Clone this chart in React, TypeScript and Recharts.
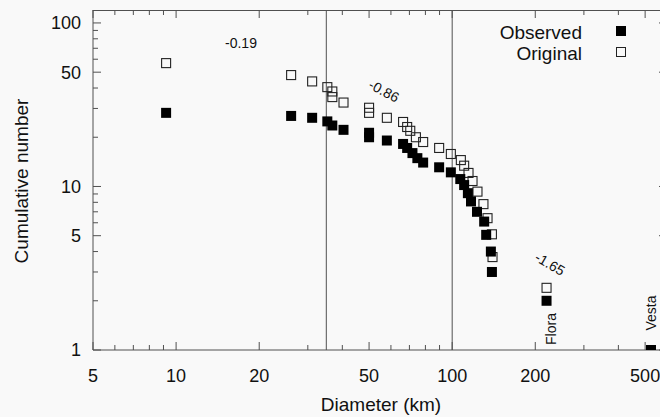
import React from 'react';
import { ScatterChart, Scatter, XAxis, YAxis, ReferenceLine } from 'recharts';

// diameters (km) and cumulative counts
const obsDiameter = [9.2, 26.1, 31.1, 35.3, 36.8, 40.4, 50, 50, 58, 66.4, 68.7, 71.8, 74.8, 78.5, 89.7, 98.9, 107, 110.5, 114, 117, 123, 130.6, 132.8, 138.1, 139.3, 219.7, 525];
const obsCount = [28.2, 27, 26.3, 25, 23.6, 22.2, 21.3, 20, 19.1, 18.2, 17.2, 16, 14.9, 14, 13.1, 12.2, 11.1, 10.2, 9.1, 8.1, 7, 6.1, 5.06, 4, 3, 2, 1];
const origDiameter = [9.2, 26.1, 31.1, 35.3, 36.8, 36.8, 40.4, 50, 50, 58, 66.4, 68.7, 70.5, 73.9, 78.5, 89.7, 98.9, 107.5, 110.5, 114.6, 118.5, 123.5, 129.8, 134.3, 139.3, 140, 219.7];
const origCount = [56.8, 48, 43.9, 40.5, 38.1, 35.2, 32.6, 30.3, 28.2, 26.3, 24.8, 23.1, 21.9, 20, 18.7, 17.2, 15.8, 14.5, 13.4, 12.1, 10.8, 9.3, 7.8, 6.4, 5.1, 3.7, 2.4];

const xTicks = [5, 6, 7, 8, 9, 10, 20, 30, 40, 50, 60, 70, 80, 90, 100, 200, 300, 400, 500];
const xLabels = [5, 10, 20, 50, 100, 200, 500];
const yTicks = [1, 2, 3, 4, 5, 6, 7, 8, 9, 10, 20, 30, 40, 50, 60, 70, 80, 90, 100];
const yLabels = [1, 5, 10, 50, 100];
const breaks = [35, 100];

const X_DOMAIN = [5, 600];
const Y_DOMAIN = [1, 120];

// plot box inside the 680px-wide chart
const PLOT_LEFT = 93;
const PLOT_RIGHT = 680 - 12 - 1;
const PLOT_TOP = 10;

const observed = obsDiameter.map((d, i) => ({ d, n: obsCount[i] }));
const original = origDiameter.map((d, i) => ({ d, n: origCount[i] }));

// x position of a frame tick on the log axis
const frameX = (v: number) =>
  PLOT_LEFT + ((PLOT_RIGHT - PLOT_LEFT) * Math.log10(v / X_DOMAIN[0])) / Math.log10(X_DOMAIN[1] / X_DOMAIN[0]);

const FONT = '"Liberation Sans", Arial, sans-serif';
const AXIS = '#505050';
const BG = '#f9f9f9';

const BottomTick = (props: any) => {
  const { x, y, payload } = props;
  const major = xLabels.includes(payload.value);
  return (
    <g>
      <line x1={x} y1={y} x2={x} y2={y - (major ? 8 : 5)} stroke={AXIS} />
      {major && (
        <text x={x} y={y + 32} textAnchor="middle" fontSize={18} fontFamily={FONT} fill="#111">
          {payload.value}
        </text>
      )}
    </g>
  );
};

const LeftTick = (props: any) => {
  const { x, y, payload } = props;
  const major = yLabels.includes(payload.value);
  return (
    <g>
      <line x1={x} y1={y} x2={x + (major ? 8 : 5)} y2={y} stroke={AXIS} />
      {major && (
        <text x={x - 12} y={y} dy="0.36em" textAnchor="end" fontSize={18} fontFamily={FONT} fill="#111">
          {payload.value}
        </text>
      )}
    </g>
  );
};

const RightTick = (props: any) => {
  const { x, y, payload } = props;
  const major = yLabels.includes(payload.value);
  return <line x1={x} y1={y} x2={x - (major ? 8 : 5)} y2={y} stroke={AXIS} />;
};

const FilledSquare = (props: any) => {
  const { cx, cy } = props;
  return <rect x={cx - 5} y={cy - 5} width={10} height={10} fill="#000" />;
};

const OpenSquare = (props: any) => {
  const { cx, cy } = props;
  return <rect x={cx - 4.5} y={cy - 4.5} width={9} height={9} fill="none" stroke="#222" strokeWidth={1.1} />;
};

export default function App() {
  return (
    <div style={{ position: 'fixed', left: 0, top: 0, width: 660, height: 417, overflow: 'hidden', background: BG }}>
      <ScatterChart width={680} height={417} margin={{ top: PLOT_TOP, right: 12, bottom: 0, left: 0 }}>
        <XAxis
          dataKey="d"
          type="number"
          scale="log"
          domain={X_DOMAIN}
          allowDataOverflow
          ticks={xTicks}
          interval={0}
          tickSize={0}
          tickMargin={0}
          tick={<BottomTick />}
          height={67}
          stroke={AXIS}
        />
        <YAxis
          dataKey="n"
          type="number"
          scale="log"
          domain={Y_DOMAIN}
          allowDataOverflow
          ticks={yTicks}
          interval={0}
          tickSize={0}
          tickMargin={0}
          tick={<LeftTick />}
          width={PLOT_LEFT}
          stroke={AXIS}
        />
        <YAxis
          yAxisId="right"
          orientation="right"
          dataKey="n"
          type="number"
          scale="log"
          domain={Y_DOMAIN}
          allowDataOverflow
          ticks={yTicks}
          interval={0}
          tickSize={0}
          tickMargin={0}
          tick={<RightTick />}
          width={1}
          stroke={AXIS}
        />
        {breaks.map((b) => (
          <ReferenceLine key={b} x={b} stroke={AXIS} strokeWidth={1} />
        ))}
        <Scatter
          name="Original"
          data={original}
          yAxisId="right"
          shape={<OpenSquare />}
          isAnimationActive={false}
        />
        <Scatter name="Observed" data={observed} shape={<FilledSquare />} isAnimationActive={false} />
      </ScatterChart>
      <svg width={660} height={417} style={{ position: 'absolute', left: 0, top: 0, pointerEvents: 'none' }} fontFamily={FONT}>
        {/* top frame and its inward ticks */}
        <line x1={PLOT_LEFT} y1={PLOT_TOP + 0.5} x2={PLOT_RIGHT} y2={PLOT_TOP + 0.5} stroke={AXIS} />
        {xTicks.map((v) => (
          <line
            key={v}
            x1={frameX(v)}
            y1={PLOT_TOP}
            x2={frameX(v)}
            y2={PLOT_TOP + (xLabels.includes(v) ? 8 : 5)}
            stroke={AXIS}
          />
        ))}
        <text x={28} y={181} transform="rotate(-90 28 181)" textAnchor="middle" fontSize={19} fill="#111">
          Cumulative number
        </text>
        <text x={381} y={411} textAnchor="middle" fontSize={19} fill="#111">
          Diameter (km)
        </text>
        <text x={582} y={39} textAnchor="end" fontSize={19} fill="#111">Observed</text>
        <text x={582} y={60} textAnchor="end" fontSize={19} fill="#111">Original</text>
        <rect x={616} y={26} width={10} height={10} fill="#000" />
        <rect x={616.5} y={47.5} width={9} height={9} fill="none" stroke="#222" />
        <text x={241} y={48} textAnchor="middle" fontSize={14} fill="#111">-0.19</text>
        <text x={384} y={91} dy="0.35em" textAnchor="middle" fontSize={14} fill="#111" transform="rotate(28 384 91)">
          -0.86
        </text>
        <text x={550} y={264} dy="0.35em" textAnchor="middle" fontSize={14} fill="#111" transform="rotate(30 550 264)">
          -1.65
        </text>
        <text x={551} y={329} dy="0.35em" textAnchor="middle" fontSize={14} fill="#111" transform="rotate(-90 551 329)">
          Flora
        </text>
        <text x={651} y={313} dy="0.35em" textAnchor="middle" fontSize={14} fill="#111" transform="rotate(-90 651 313)">
          Vesta
        </text>
      </svg>
    </div>
  );
}
